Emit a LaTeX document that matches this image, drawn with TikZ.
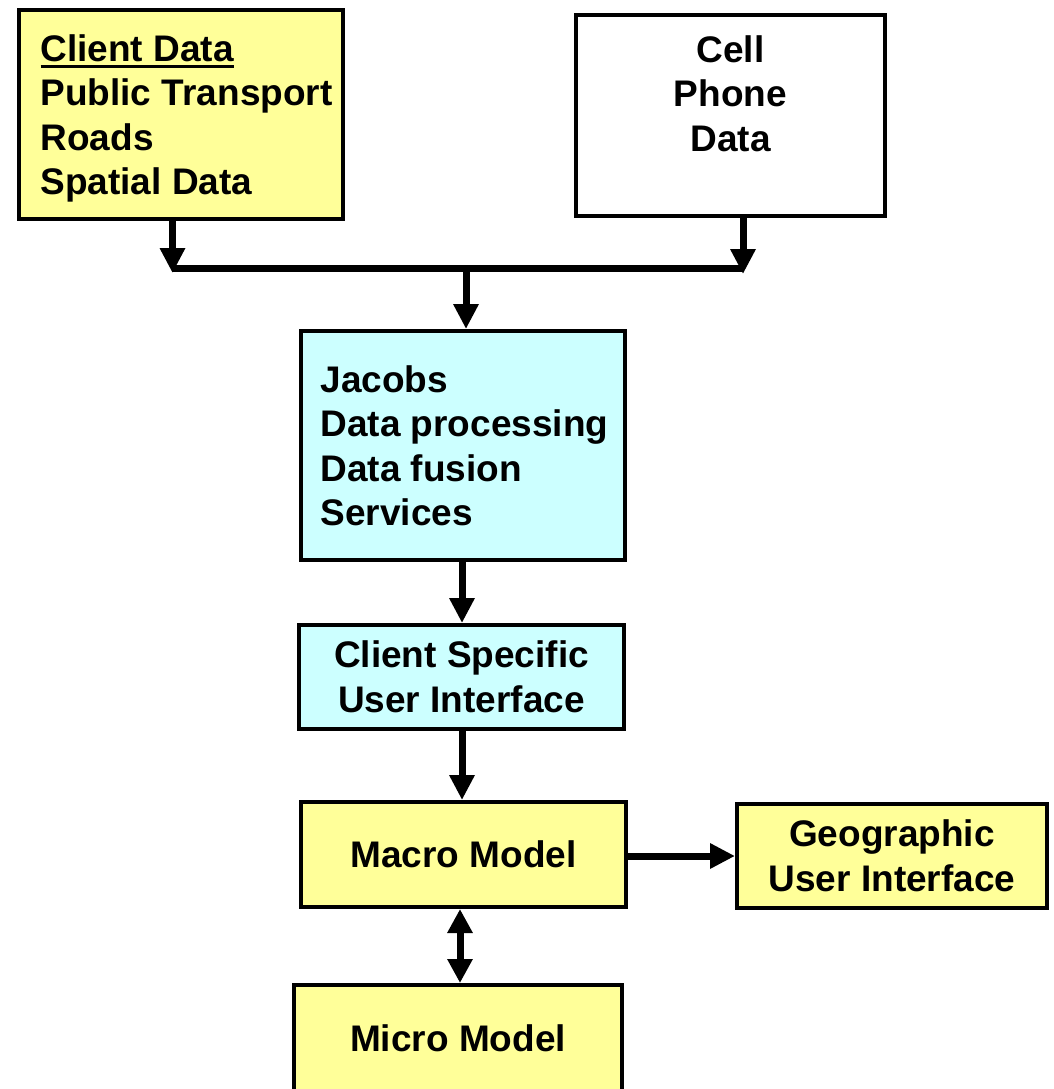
\documentclass[tikz,border=0pt]{standalone}
\usepackage{fontspec}
\setmainfont{Liberation Sans}
\usetikzlibrary{arrows.meta}
\definecolor{boxyellow}{HTML}{FFFF99}
\definecolor{boxcyan}{HTML}{CCFFFF}
\newcommand\myul[1]{\setbox0\hbox{#1}\rlap{\rule[-7pt]{\wd0}{3pt}}\box0}
\newcommand\ind{\hspace*{11pt}}
\begin{document}
\begin{tikzpicture}[x=1pt,y=-1pt,
  box/.style={draw=black, line width=4pt, inner sep=0pt,
    font=\fontsize{37}{44.5}\selectfont\bfseries, align=center},
  arr/.style={line width=7pt, -{Triangle[width=24pt,length=25pt]}},
  dblarr/.style={line width=7pt, {Triangle[width=24pt,length=24pt]}-{Triangle[width=24pt,length=24pt]}},
  bus/.style={line width=7pt}]
\clip (0,0) rectangle (1054,1089);
\fill[white] (0,0) rectangle (1054,1089);

\node[box, fill=boxyellow, minimum width=324pt, minimum height=209pt, align=left, text depth=0pt] (client) at (181,114.5)
  {\ind\myul{Client Data}\\\ind Public Transport\\\ind Roads\\\ind Spatial Data};
\node[box, fill=white, minimum width=309pt, minimum height=201pt, text depth=44.5pt] (cell) at (730.5,115.5)
  {Cell\\Phone\\Data};
\node[box, fill=boxcyan, minimum width=324pt, minimum height=229pt, align=left, text depth=0pt] (jacobs) at (463,445.5)
  {\hspace*{3pt}Jacobs\\\hspace*{3pt}Data processing\\\hspace*{3pt}Data fusion\\\hspace*{3pt}Services};
\node[box, fill=boxcyan, minimum width=325pt, minimum height=104pt] (csui) at (461.5,677)
  {Client Specific\\User Interface};
\node[box, fill=boxyellow, minimum width=325pt, minimum height=105pt] (macro) at (463.5,854.5)
  {Macro Model};
\node[box, fill=boxyellow, minimum width=310pt, minimum height=104pt] (geo) at (892,856)
  {Geographic\\User Interface};
\node[box, fill=boxyellow, minimum width=328pt, minimum height=106pt] (micro) at (458,1038)
  {Micro Model};

\coordinate (tl) at (172.5,273);
\coordinate (tr) at (743,274);
\coordinate (bl) at (172.5,268.5);
\coordinate (br) at (743,268.5);
\coordinate (jm) at (466,268.5);
\coordinate (c1) at (462,0);
\coordinate (c2) at (462,0);
\coordinate (c3) at (460,0);

\draw[arr] (client.south -| tl) -- (tl);
\draw[arr] (cell.south -| tr) -- (tr);
\draw[bus] (bl) -- (br);
\draw[arr] (jm) -- (jacobs.north -| jm);
\draw[arr] (jacobs.south -| c1) -- (csui.north -| c1);
\draw[arr] (csui.south -| c2) -- (macro.north -| c2);
\draw[arr] (macro.east |- geo) -- (geo.west);
\draw[dblarr] (macro.south -| c3) -- (micro.north -| c3);
\end{tikzpicture}
\end{document}
